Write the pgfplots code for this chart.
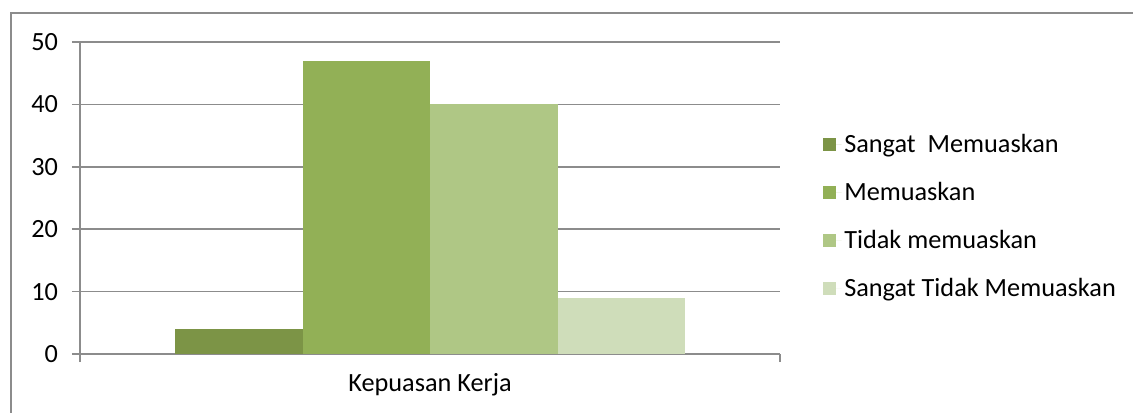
\documentclass[border=0pt]{standalone}
\usepackage{fontspec}
\setmainfont{Carlito}
\usepackage{pgfplots}
\pgfplotsset{compat=1.18}
\definecolor{c1}{HTML}{7C9446}
\definecolor{c2}{HTML}{92B056}
\definecolor{c3}{HTML}{AFC785}
\definecolor{c4}{HTML}{CFDDBA}
\definecolor{gl}{HTML}{8C8C8C}
\begin{document}
\begin{tikzpicture}
\useasboundingbox (0,0) rectangle (849.75pt,309pt);
\draw[gl, line width=1.2pt] (8.25pt,-2pt) -- (8.25pt,299.25pt) -- (852pt,299.25pt);
\begin{axis}[
  at={(60pt,43.5pt)}, anchor=south west,
  scale only axis, width=525pt, height=234pt,
  xmin=-0.5, xmax=0.5, ymin=0, ymax=50,
  ytick={0,10,...,50},
  xtick={-0.5,0.5}, xticklabels={},
  axis lines*=left,
  axis line style={gl, line width=1.2pt},
  ymajorgrids, grid style={gl, line width=1.2pt},
  tick style={gl, line width=1.2pt},
  tick align=outside, major tick length=6pt,
  /pgf/number format/assume math mode=true,
  ticklabel style={font=\fontsize{19.7}{22}\selectfont, text=black},
  yticklabel style={xshift=-7pt},
  xlabel={Kepuasan Kerja},
  xlabel style={at={(axis description cs:0.5,0)}, anchor=center, yshift=-23.25pt, font=\fontsize{19.7}{22}\selectfont},
  ybar, bar width=95.6pt, bar shift=0pt,
  clip=false,
  legend style={at={(1.061,0.44)}, anchor=west, draw=none, fill=none, inner sep=0pt,
    font=\fontsize{19.7}{22}\selectfont, row sep=16.75pt},
  legend cell align=left,
  sq/.style={legend image code/.code={\fill[##1] (0pt,-4.875pt) rectangle (9.75pt,4.875pt); \path (0pt,0pt) -- (14pt,0pt);}},
]
\addplot[fill=c1, draw=none, sq] coordinates {(-0.2729,4)};
\addlegendentry{Sangat\ \ Memuaskan}
\addplot[fill=c2, draw=none, sq] coordinates {(-0.0907,47)};
\addlegendentry{Memuaskan}
\addplot[fill=c3, draw=none, sq] coordinates {(0.0914,40)};
\addlegendentry{Tidak memuaskan}
\addplot[fill=c4, draw=none, sq] coordinates {(0.2736,9)};
\addlegendentry{Sangat Tidak Memuaskan}
\end{axis}
\end{tikzpicture}
\end{document}
